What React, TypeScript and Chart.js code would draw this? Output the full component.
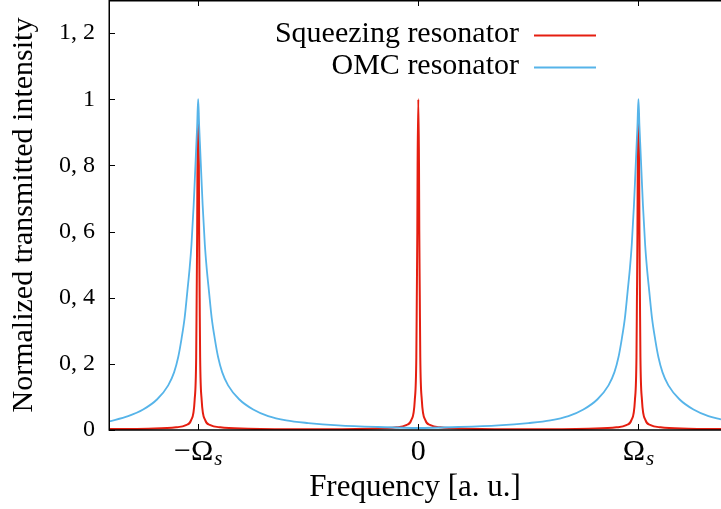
import React, { useEffect, useRef } from "react";
import { Chart, registerables } from "chart.js";

Chart.register(...registerables);

// Frequency in units of Omega_s
const freqOmc = [
  -1.405, -1.318, -1.25, -1.186, -1.136, -1.109, -1.0908, -1.0758, -1.0613, -1.049, -1.0386,
  -1.0304, -1.0204, -1.015, -1.0091, -1.0045, -1.0,
  -0.9955, -0.9909, -0.985, -0.9796, -0.9696, -0.9614, -0.951, -0.9387, -0.9242, -0.9092,
  -0.891, -0.864, -0.814, -0.75, -0.682, -0.6, -0.5, -0.364, -0.183, 0,
  0.183, 0.364, 0.5, 0.6, 0.682, 0.75, 0.814, 0.864, 0.891, 0.9092, 0.9242, 0.9387, 0.951,
  0.9614, 0.9696, 0.9796, 0.985, 0.9909, 0.9955, 1.0,
  1.0045, 1.0091, 1.015, 1.0204, 1.0304, 1.0386, 1.049, 1.0613, 1.0758, 1.0908, 1.109,
  1.136, 1.186, 1.25, 1.318, 1.375,
];
const omcValues = [
  0.026, 0.042, 0.062, 0.093, 0.135, 0.175, 0.22, 0.275, 0.34, 0.42, 0.49,
  0.56, 0.68, 0.76, 0.85, 0.92, 1.0,
  0.92, 0.85, 0.76, 0.68, 0.56, 0.49, 0.42, 0.34, 0.275, 0.22,
  0.175, 0.135, 0.093, 0.062, 0.042, 0.029, 0.021, 0.014, 0.009, 0.006,
  0.009, 0.014, 0.021, 0.029, 0.042, 0.062, 0.093, 0.135, 0.175, 0.22, 0.275, 0.34, 0.42,
  0.49, 0.56, 0.68, 0.76, 0.85, 0.92, 1.0,
  0.92, 0.85, 0.76, 0.68, 0.56, 0.49, 0.42, 0.34, 0.275, 0.22, 0.175,
  0.135, 0.093, 0.062, 0.042, 0.032,
];

const freqSqz = [
  -1.405, -1.227, -1.1, -1.055, -1.032, -1.016, -1.009, -1.0068, -1.0045, -1.0032, -1.0,
  -0.9968, -0.9955, -0.9932, -0.991, -0.984, -0.968, -0.945, -0.9, -0.773, -0.5,
  -0.227, -0.1, -0.055, -0.032, -0.016, -0.009, -0.0068, -0.0045, -0.0032, 0,
  0.0032, 0.0045, 0.0068, 0.009, 0.016, 0.032, 0.055, 0.1, 0.227, 0.5,
  0.773, 0.9, 0.945, 0.968, 0.984, 0.991, 0.9932, 0.9955, 0.9968, 1.0,
  1.0032, 1.0045, 1.0068, 1.009, 1.016, 1.032, 1.055, 1.1, 1.227, 1.375,
];
const sqzValues = [
  0.003, 0.004, 0.008, 0.015, 0.03, 0.09, 0.22, 0.4, 0.6, 0.8, 0.96,
  0.8, 0.6, 0.4, 0.22, 0.09, 0.03, 0.015, 0.008, 0.004, 0.002,
  0.004, 0.008, 0.015, 0.03, 0.09, 0.22, 0.4, 0.6, 0.8, 1.0,
  0.8, 0.6, 0.4, 0.22, 0.09, 0.03, 0.015, 0.008, 0.004, 0.002,
  0.004, 0.008, 0.015, 0.03, 0.09, 0.22, 0.4, 0.6, 0.8, 0.96,
  0.8, 0.6, 0.4, 0.22, 0.09, 0.03, 0.015, 0.008, 0.004, 0.003,
];

const yTickValues = [0, 0.2, 0.4, 0.6, 0.8, 1, 1.2];
const yTickLabels = ["0", "0, 2", "0, 4", "0, 6", "0, 8", "1", "1, 2"];
const xTickValues = [-1, 0, 1];
const xTickMain = ["\u2212\u03A9", "0", "\u03A9"];
const xTickSub = ["s", "", "s"];
const seriesNames = ["Squeezing resonator", "OMC resonator"];
const seriesColors = ["#e51e10", "#56b4e9"];

const FONT = "'Liberation Serif', 'Times New Roman', serif";

const framePlugin = {
  id: "frame",
  afterDraw(chart: any) {
    const { ctx, chartArea: a, scales } = chart;
    const xs = scales.x;
    const ys = scales.y;
    ctx.save();
    ctx.strokeStyle = "#000";
    ctx.lineWidth = 1.5;
    ctx.beginPath();
    ctx.moveTo(a.left, a.top + 0.75);
    ctx.lineTo(a.right, a.top + 0.75);
    ctx.moveTo(a.left + 0.25, a.top);
    ctx.lineTo(a.left + 0.25, a.bottom);
    ctx.lineTo(a.right, a.bottom);
    ctx.stroke();

    ctx.lineWidth = 1;
    ctx.beginPath();
    yTickValues.forEach((v) => {
      const py = Math.round(ys.getPixelForValue(v)) + 0.5;
      ctx.moveTo(a.left, py);
      ctx.lineTo(a.left + 6, py);
    });
    xTickValues.forEach((v) => {
      const px = Math.round(xs.getPixelForValue(v)) + 0.5;
      ctx.moveTo(px, a.bottom);
      ctx.lineTo(px, a.bottom - 6);
      ctx.moveTo(px, a.top);
      ctx.lineTo(px, a.top + 6);
    });
    ctx.stroke();

    // x tick labels with subscript
    ctx.fillStyle = "#000";
    ctx.textBaseline = "alphabetic";
    ctx.textAlign = "left";
    xTickValues.forEach((v, i) => {
      const px = xs.getPixelForValue(v);
      ctx.font = `30px ${FONT}`;
      const w1 = ctx.measureText(xTickMain[i]).width;
      ctx.font = `italic 21px ${FONT}`;
      const w2 = xTickSub[i] ? ctx.measureText(xTickSub[i]).width + 1 : 0;
      const start = px - (w1 + w2) / 2;
      ctx.font = `30px ${FONT}`;
      ctx.fillText(xTickMain[i], start, 460);
      if (xTickSub[i]) {
        ctx.font = `italic 21px ${FONT}`;
        ctx.fillText(xTickSub[i], start + w1 + 1, 465);
      }
    });

    // legend
    ctx.font = `30px ${FONT}`;
    ctx.textAlign = "right";
    const rows = [42, 74];
    const lines = [35.5, 67.5];
    seriesNames.forEach((name, i) => {
      ctx.fillStyle = "#000";
      ctx.fillText(name, 519, rows[i]);
      ctx.strokeStyle = seriesColors[i];
      ctx.lineWidth = 2;
      ctx.beginPath();
      ctx.moveTo(534, lines[i]);
      ctx.lineTo(596, lines[i]);
      ctx.stroke();
    });
    ctx.restore();
  },
};

export default function App() {
  const ref = useRef<HTMLCanvasElement>(null);
  useEffect(() => {
    if (!ref.current) return;
    const chart = new Chart(ref.current, {
      type: "line",
      data: {
        datasets: [
          {
            label: seriesNames[0],
            data: freqSqz.map((x, i) => ({ x, y: sqzValues[i] })),
            borderColor: seriesColors[0],
            borderWidth: 2,
            pointRadius: 0,
            cubicInterpolationMode: "monotone",
            order: 1,
          },
          {
            label: seriesNames[1],
            data: freqOmc.map((x, i) => ({ x, y: omcValues[i] })),
            borderColor: seriesColors[1],
            borderWidth: 1.8,
            pointRadius: 0,
            cubicInterpolationMode: "monotone",
            order: 0,
          },
        ],
      },
      options: {
        animation: false,
        responsive: false,
        devicePixelRatio: 1,
        layout: { padding: 0 },
        plugins: { legend: { display: false }, tooltip: { enabled: false } },
        scales: {
          x: {
            type: "linear",
            min: -1.405,
            max: 1.375,
            ticks: { display: false },
            grid: { display: false, drawTicks: false },
            border: { display: false },
            title: {
              display: true,
              text: "Frequency [a. u.]",
              color: "#000",
              font: { family: FONT, size: 31 },
              padding: { top: 0, bottom: 3 },
            },
            afterFit: (s: any) => {
              s.height = 79;
              s.paddingLeft = 0;
              s.paddingRight = 0;
            },
          },
          y: {
            type: "linear",
            min: 0,
            max: 1.3,
            afterBuildTicks: (s: any) => {
              s.ticks = yTickValues.map((v) => ({ value: v }));
            },
            ticks: {
              autoSkip: false,
              padding: 14,
              color: "#000",
              font: { family: FONT, size: 24 },
              callback: (_v: any, i: number) => yTickLabels[i],
            },
            grid: { display: false, drawTicks: false },
            border: { display: false },
            title: {
              display: true,
              text: "Normalized transmitted intensity",
              color: "#000",
              font: { family: FONT, size: 30 },
              padding: { top: 6, bottom: 0 },
            },
            afterFit: (s: any) => {
              s.width = 109;
              s.paddingTop = 0;
              s.paddingBottom = 0;
            },
          },
        },
      },
      plugins: [framePlugin],
    });
    return () => chart.destroy();
  }, []);
  return (
    <div style={{ position: "fixed", left: 0, top: 0, width: 721, height: 509, background: "#fff" }}>
      <canvas ref={ref} width={721} height={509} style={{ display: "block" }} />
    </div>
  );
}
